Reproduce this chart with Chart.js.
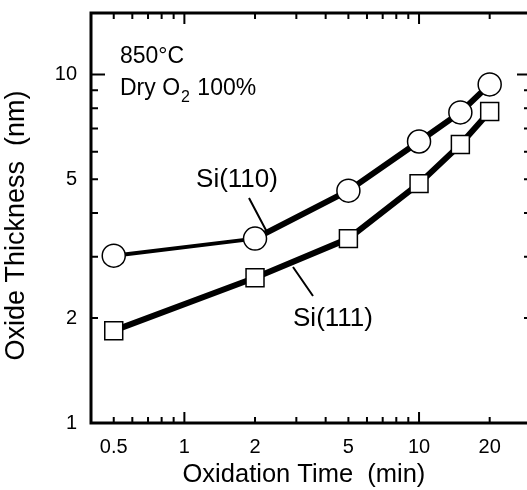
<!DOCTYPE html>
<html>
<head>
<meta charset="utf-8">
<script src="https://cdn.jsdelivr.net/npm/chart.js@4/dist/chart.umd.min.js"></script>
<style>
  html, body { margin: 0; padding: 0; background: #fff; overflow: hidden; }
  #wrap { width: 533px; height: 490px; }
</style>
</head>
<body>
<div id="wrap"><canvas id="oxChart" width="533" height="490"></canvas></div>
<script>
// oxidation time (min)
const times = [0.5, 2, 5, 10, 15, 20];
// oxide thickness (nm)
const si110 = [3.02, 3.38, 4.64, 6.42, 7.78, 9.36];
const si111 = [1.84, 2.61, 3.38, 4.86, 6.29, 7.83];

const xLabelTicks = [0.5, 1, 2, 5, 10, 20];
const yLabelTicks = [1, 2, 5, 10];
const xMinorTicks = [0.5, 0.6, 0.7, 0.8, 0.9, 2, 3, 4, 5, 6, 7, 8, 9, 20];
const xMajorTicks = [1, 10];
const yMinorTicks = [2, 3, 4, 5, 6, 7, 8, 9];
const yMajorTicks = [10];

const FONT = "'Liberation Sans', Arial, Helvetica, sans-serif";

// frame + inward tick marks on all four sides
const framePlugin = {
  id: 'frame',
  beforeDatasetsDraw(chart) {
    const ctx = chart.ctx;
    const a = chart.chartArea;
    const xs = chart.scales.x, ys = chart.scales.y;
    ctx.save();
    ctx.strokeStyle = '#000';
    ctx.lineCap = 'butt';
    ctx.lineWidth = 2;
    xMinorTicks.forEach(v => {
      const px = xs.getPixelForValue(v);
      ctx.beginPath();
      ctx.moveTo(px, a.bottom); ctx.lineTo(px, a.bottom - 6);
      ctx.moveTo(px, a.top); ctx.lineTo(px, a.top + 6);
      ctx.stroke();
    });
    xMajorTicks.forEach(v => {
      const px = xs.getPixelForValue(v);
      ctx.beginPath();
      ctx.moveTo(px, a.bottom); ctx.lineTo(px, a.bottom - 11);
      ctx.moveTo(px, a.top); ctx.lineTo(px, a.top + 11);
      ctx.stroke();
    });
    yMinorTicks.forEach(v => {
      const py = ys.getPixelForValue(v);
      ctx.beginPath();
      ctx.moveTo(a.left, py); ctx.lineTo(a.left + 7, py);
      ctx.moveTo(a.right, py); ctx.lineTo(a.right - 7, py);
      ctx.stroke();
    });
    yMajorTicks.forEach(v => {
      const py = ys.getPixelForValue(v);
      ctx.beginPath();
      ctx.moveTo(a.left, py); ctx.lineTo(a.left + 14, py);
      ctx.moveTo(a.right, py); ctx.lineTo(a.right - 14, py);
      ctx.stroke();
    });
    ctx.lineWidth = 3;
    ctx.strokeRect(a.left, a.top, a.right - a.left, a.bottom - a.top);
    ctx.restore();
  }
};

// condition text and curve labels
const notesPlugin = {
  id: 'notes',
  afterDraw(chart) {
    const ctx = chart.ctx;
    ctx.save();
    ctx.fillStyle = '#000';
    ctx.textBaseline = 'alphabetic';
    ctx.textAlign = 'left';
    ctx.font = '23px ' + FONT;
    ctx.fillText('850°C', 120, 63);
    ctx.fillText('Dry O', 120, 95);
    let w = ctx.measureText('Dry O').width;
    ctx.font = '16px ' + FONT;
    ctx.fillText('2', 120 + w + 1, 102);
    let w2 = ctx.measureText('2').width;
    ctx.font = '23px ' + FONT;
    ctx.fillText(' 100%', 120 + w + w2 + 2, 95);

    ctx.font = '26px ' + FONT;
    ctx.textAlign = 'center';
    ctx.fillText('Si(110)', 237, 187);
    ctx.fillText('Si(111)', 333, 326);

    ctx.strokeStyle = '#000';
    ctx.lineWidth = 2;
    ctx.beginPath();
    ctx.moveTo(249, 198); ctx.lineTo(268, 234);
    ctx.moveTo(293, 267); ctx.lineTo(313, 296);
    ctx.stroke();
    ctx.restore();
  }
};

const ctx = document.getElementById('oxChart');
new Chart(ctx, {
  type: 'line',
  data: {
    datasets: [
      {
        label: 'Si(110)',
        data: times.map((t, i) => ({ x: t, y: si110[i] })),
        borderColor: '#000',
        borderWidth: 6,
        segment: { borderWidth: c => c.p0DataIndex === 0 ? 4 : 6 },
        pointStyle: 'circle',
        pointRadius: 11.5,
        pointHoverRadius: 11.5,
        pointBackgroundColor: '#fff',
        pointBorderColor: '#000',
        pointBorderWidth: 1.5,
        borderJoinStyle: 'round',
        tension: 0,
        clip: false
      },
      {
        label: 'Si(111)',
        data: times.map((t, i) => ({ x: t, y: si111[i] })),
        borderColor: '#000',
        borderWidth: 6,
        pointStyle: 'rect',
        pointRadius: 12.7,
        pointHoverRadius: 12.7,
        pointBackgroundColor: '#fff',
        pointBorderColor: '#000',
        pointBorderWidth: 1.5,
        borderJoinStyle: 'round',
        tension: 0,
        clip: false
      }
    ]
  },
  options: {
    responsive: false,
    animation: false,
    layout: { autoPadding: false, padding: { top: 13, right: 2, bottom: 0, left: 0 } },
    plugins: {
      legend: { display: false },
      tooltip: { enabled: false }
    },
    scales: {
      x: {
        type: 'logarithmic',
        min: 0.4,
        max: 30,
        afterBuildTicks: s => { s.ticks = xLabelTicks.map(v => ({ value: v })); },
        afterFit: s => { s.height = 67; s.paddingLeft = 0; s.paddingRight = 0; },
        grid: { display: false, drawTicks: false },
        border: { display: false },
        ticks: {
          autoSkip: false,
          maxRotation: 0,
          padding: 12,
          color: '#000',
          font: { family: FONT, size: 20 },
          callback: v => String(v)
        },
        title: {
          display: true,
          text: 'Oxidation Time  (min)  ',
          color: '#000',
          font: { family: FONT, size: 25.5 },
          padding: { top: 2, bottom: 0 }
        }
      },
      y: {
        type: 'logarithmic',
        min: 1,
        max: 15,
        afterBuildTicks: s => { s.ticks = yLabelTicks.map(v => ({ value: v })); },
        afterFit: s => { s.width = 91; s.paddingTop = 0; s.paddingBottom = 0; },
        grid: { display: false, drawTicks: false },
        border: { display: false },
        ticks: {
          autoSkip: false,
          padding: 14,
          color: '#000',
          font: { family: FONT, size: 20 },
          callback: v => String(v)
        },
        title: {
          display: true,
          text: 'Oxide Thickness  (nm)  ',
          color: '#000',
          font: { family: FONT, size: 27 },
          padding: { top: 0, bottom: 0 }
        }
      }
    }
  },
  plugins: [framePlugin, notesPlugin]
});
</script>
</body>
</html>
